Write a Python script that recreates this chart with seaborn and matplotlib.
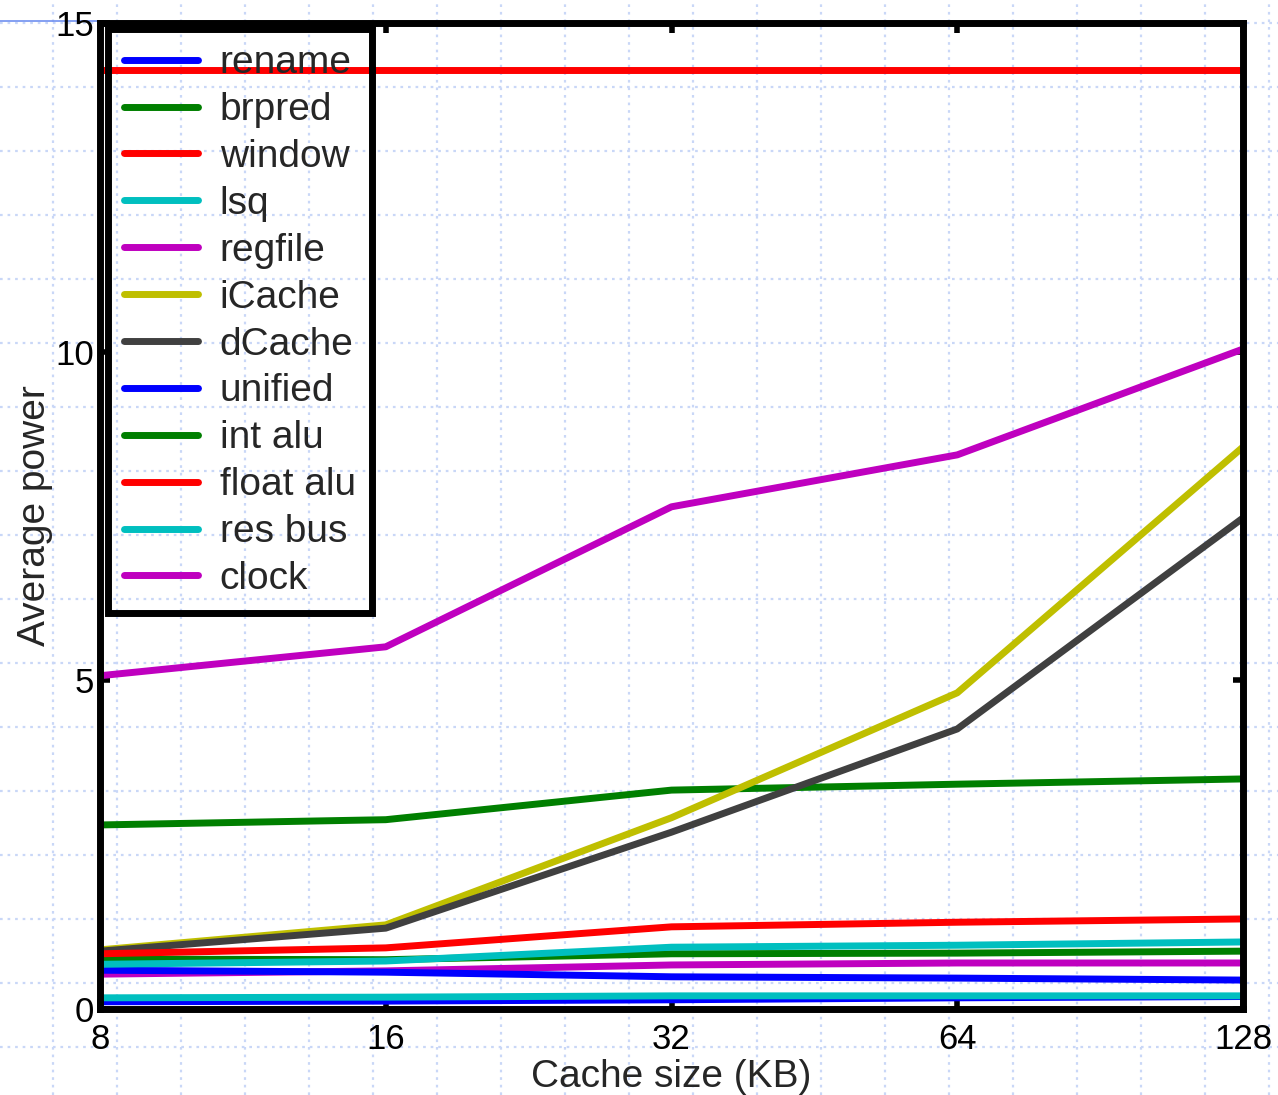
import matplotlib
matplotlib.use("Agg")
import matplotlib.pyplot as plt
from matplotlib.lines import Line2D
import numpy as np
import pandas as pd
import seaborn as sns

# Cache sizes (KB) on a log2 axis
cache_kb = [8, 16, 32, 64, 128]

components = ["rename", "brpred", "window", "lsq", "regfile", "iCache",
              "dCache", "unified", "int alu", "float alu", "res bus", "clock"]

rename = [0.11, 0.12, 0.14, 0.17, 0.19]
brpred = [2.80, 2.88, 3.33, 3.42, 3.50]
window = [14.29, 14.29, 14.29, 14.29, 14.29]
lsq = [0.17, 0.18, 0.20, 0.20, 0.20]
regfile = [0.53, 0.58, 0.67, 0.70, 0.70]
icache = [0.90, 1.28, 2.91, 4.81, 8.55]
dcache = [0.88, 1.23, 2.69, 4.26, 7.47]
unified = [0.59, 0.56, 0.49, 0.47, 0.44]
int_alu = [0.76, 0.75, 0.84, 0.85, 0.88]
float_alu = [0.84, 0.93, 1.25, 1.32, 1.37]
res_bus = [0.68, 0.73, 0.94, 0.97, 1.02]
clock = [5.07, 5.51, 7.64, 8.43, 10.04]

series = [rename, brpred, window, lsq, regfile, icache,
          dcache, unified, int_alu, float_alu, res_bus, clock]

line_colors = ["#0000ff", "#007f00", "#ff0000", "#00bfbf", "#bf00bf", "#bfbf00",
               "#404040", "#0000ff", "#007f00", "#ff0000", "#00bfbf", "#bf00bf"]

rows = []
for name, vals in zip(components, series):
    for x, v in zip(cache_kb, vals):
        rows.append({"Cache size (KB)": x, "Average power": v, "component": name})
df = pd.DataFrame(rows)

sns.set_style("ticks")
plt.rcParams["font.family"] = ["Liberation Sans", "DejaVu Sans"]

W, H = 1278, 1095
fig = plt.figure(figsize=(W / 100, H / 100), dpi=100)
fig.patch.set_facecolor("white")

# Graph-paper backdrop of dotted light-blue lines
grid_col = "#c9d7f7"
for px in np.arange(53, W, 64):
    fig.add_artist(Line2D([px / W, px / W], [0, 1], transform=fig.transFigure,
                          color=grid_col, lw=1.6, ls=(0, (1.2, 2.2)), zorder=0))
for py in np.arange(23, H, 64):
    fig.add_artist(Line2D([0, 1], [1 - py / H, 1 - py / H], transform=fig.transFigure,
                          color=grid_col, lw=1.6, ls=(0, (1.2, 2.2)), zorder=0))
fig.add_artist(Line2D([0, 100 / W], [1 - 21 / H, 1 - 21 / H], transform=fig.transFigure,
                      color="#7090f0", lw=1.2, zorder=0))

ax = fig.add_axes([100 / W, 1 - 1009 / H, (1243 - 100) / W, (1009 - 23) / H])
ax.set_facecolor("none")

palette = dict(zip(components, line_colors))
sns.lineplot(data=df, x="Cache size (KB)", y="Average power", hue="component",
             hue_order=components, palette=palette, linewidth=5,
             ax=ax, legend=False)

ax.set_xscale("log", base=2)
ax.set_xlim(8, 128)
ax.set_ylim(0, 15)
ax.set_xticks(cache_kb)
ax.set_xticklabels([str(c) for c in cache_kb])
ax.minorticks_off()
ax.set_yticks([0, 5, 10, 15])
ax.set_yticklabels(["0", "5", "10", "15"])

for s in ax.spines.values():
    s.set_visible(True)
    s.set_linewidth(5)
    s.set_color("black")
ax.tick_params(axis="both", which="both", direction="in", length=7, width=4,
               top=True, right=True, labelsize=25, colors="black")
ax.tick_params(axis="x", pad=10)
ax.tick_params(axis="y", pad=4)

ax.set_xlabel("Cache size (KB)", fontsize=28, labelpad=2)
ax.set_ylabel("Average power", fontsize=28, labelpad=2)

handles = [Line2D([0], [0], color=c, lw=5, solid_capstyle="round") for c in line_colors]
leg = ax.legend(handles, components, loc="upper left", bbox_to_anchor=(0.007, 0.994),
                fontsize=28, frameon=True, fancybox=False, handlelength=1.9,
                handletextpad=0.55, labelspacing=0.28, borderpad=0.42,
                borderaxespad=0.0, framealpha=1)
frame = leg.get_frame()
frame.set_facecolor("none")
frame.set_edgecolor("black")
frame.set_linewidth(5)

fig.savefig("out.png", dpi=100)
